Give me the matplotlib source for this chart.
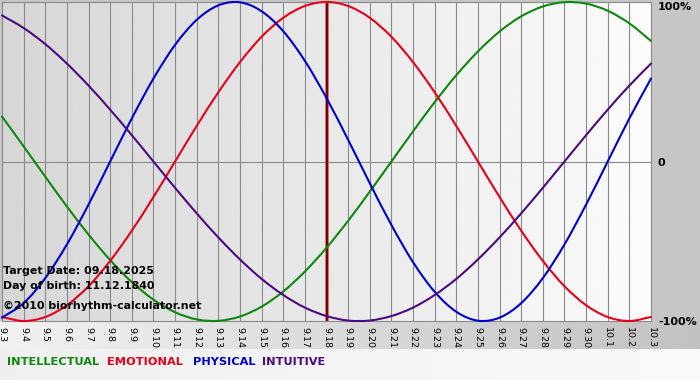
import matplotlib.pyplot as plt
import numpy as np
from matplotlib.path import Path
from matplotlib.patches import PathPatch

dates = ['9.3', '9.4', '9.5', '9.6', '9.7', '9.8', '9.9', '9.10', '9.11', '9.12',
         '9.13', '9.14', '9.15', '9.16', '9.17', '9.18', '9.19', '9.20', '9.21',
         '9.22', '9.23', '9.24', '9.25', '9.26', '9.27', '9.28', '9.29', '9.30',
         '10.1', '10.2', '10.3']

intellectual = [0.282, 0.095, -0.095, -0.282, -0.458, -0.618, -0.756, -0.866,
                -0.945, -0.990, -0.999, -0.972, -0.910, -0.815, -0.690, -0.541,
                -0.372, -0.189, 0.0, 0.189, 0.372, 0.541, 0.690, 0.815, 0.910,
                0.972, 0.999, 0.990, 0.945, 0.866, 0.756]
emotional = [-0.975, -1.0, -0.975, -0.901, -0.782, -0.623, -0.434, -0.223,
             0.0, 0.223, 0.434, 0.623, 0.782, 0.901, 0.975, 1.0, 0.975, 0.901,
             0.782, 0.623, 0.434, 0.223, 0.0, -0.223, -0.434, -0.623, -0.782,
             -0.901, -0.975, -1.0, -0.975]
physical = [-0.979, -0.888, -0.731, -0.520, -0.270, 0.0, 0.270, 0.520, 0.731,
            0.888, 0.979, 0.998, 0.942, 0.817, 0.631, 0.398, 0.136, -0.136,
            -0.398, -0.631, -0.817, -0.942, -0.998, -0.979, -0.888, -0.731,
            -0.520, -0.270, 0.0, 0.270, 0.520]
intuitive = [0.916, 0.837, 0.736, 0.614, 0.476, 0.325, 0.165, 0.0, -0.165,
             -0.325, -0.476, -0.614, -0.736, -0.837, -0.916, -0.969, -0.997,
             -0.997, -0.969, -0.916, -0.837, -0.736, -0.614, -0.476, -0.325,
             -0.165, 0.0, 0.165, 0.325, 0.476, 0.614]

target_label = '9.18'
series = [('INTELLECTUAL', intellectual, '#0e870e'),
          ('EMOTIONAL', emotional, '#e6001a'),
          ('PHYSICAL', physical, '#0000d0'),
          ('INTUITIVE', intuitive, '#4b0a82')]


def smooth_path(xs, ys):
    # catmull-rom through the daily points, drawn as cubic bezier pieces
    p = np.column_stack([xs, ys]).astype(float)
    ext = np.vstack([2 * p[0] - p[1], p, 2 * p[-1] - p[-2]])
    verts = [p[0]]
    codes = [Path.MOVETO]
    for i in range(len(p) - 1):
        a, b, c, d = ext[i], ext[i + 1], ext[i + 2], ext[i + 3]
        verts += [b + (c - a) / 6, c - (d - b) / 6, c]
        codes += [Path.CURVE4] * 3
    return Path(verts, codes)


W, H = 700, 380
fig = plt.figure(figsize=(W / 100, H / 100), dpi=100)

# backdrop: grey frame, light-to-dark strip under the plot, pale legend strip
bg = fig.add_axes([0, 0, 1, 1])
bg.set_axis_off()
img = np.full((H, W, 3), 0.78)
img[321:349, :, :] = np.linspace(0.95, 0.76, W)[None, :, None]
img[349:, :, :] = np.linspace(0.94, 0.98, W)[None, :, None]
bg.imshow(img, extent=(0, 1, 0, 1), aspect='auto', interpolation='bilinear')
bg.set_xlim(0, 1)
bg.set_ylim(0, 1)

ax = fig.add_axes([2 / W, (H - 321) / H, 649 / W, 319 / H])
ax.set_facecolor('none')
x = np.arange(len(dates))
ax.imshow(np.linspace(0.84, 0.985, 256)[None, :], cmap='gray', vmin=0, vmax=1,
          extent=(x[0], x[-1], -1, 1), aspect='auto', zorder=0)

ax.set_xlim(x[0], x[-1])
ax.set_ylim(-1, 1)
ax.set_xticks(x)
ax.set_xticklabels(dates, rotation=270, fontsize=6.8)
ax.grid(axis='x', color='#8a8a8a', lw=0.8, zorder=1)
ax.axhline(0, color='#8a8a8a', lw=0.8, zorder=1)
ax.yaxis.tick_right()
ax.set_yticks([-1, 0, 1])
ax.set_yticklabels(['-100%', '0', '100%'], fontsize=8, fontweight='bold')
ax.get_yticklabels()[2].set_va('top')
ax.tick_params(axis='x', length=0, pad=4)
ax.tick_params(axis='y', length=0, pad=5)
for sp in ax.spines.values():
    sp.set_color('#8a8a8a')
    sp.set_linewidth(0.8)

ti = dates.index(target_label)
ax.axvline(x[ti], color='#c06060', lw=2.6, zorder=2)
ax.axvline(x[ti], color='#7a0000', lw=1.4, zorder=2)

for name, vals, col in series:
    ax.add_patch(PathPatch(smooth_path(x, vals), facecolor='none', edgecolor=col,
                           lw=1.5, zorder=3, clip_on=False, capstyle='round'))

fig.text(3 / W, 1 - 271 / H, 'Target Date: 09.18.2025', fontsize=7.9,
         fontweight='bold', va='center')
fig.text(3 / W, 1 - 286 / H, 'Day of birth: 11.12.1840', fontsize=7.9,
         fontweight='bold', va='center')
fig.text(3 / W, 1 - 306 / H, '\u00a92010 biorhythm-calculator.net', fontsize=7.9,
         fontweight='bold', va='center')

legend_x = [7, 107, 193, 262]
for (name, vals, col), lx in zip(series, legend_x):
    fig.text(lx / W, 1 - 362 / H, name, color=col, fontsize=8.2,
             fontweight='bold', va='center')

fig.savefig('out.png', dpi=100)
